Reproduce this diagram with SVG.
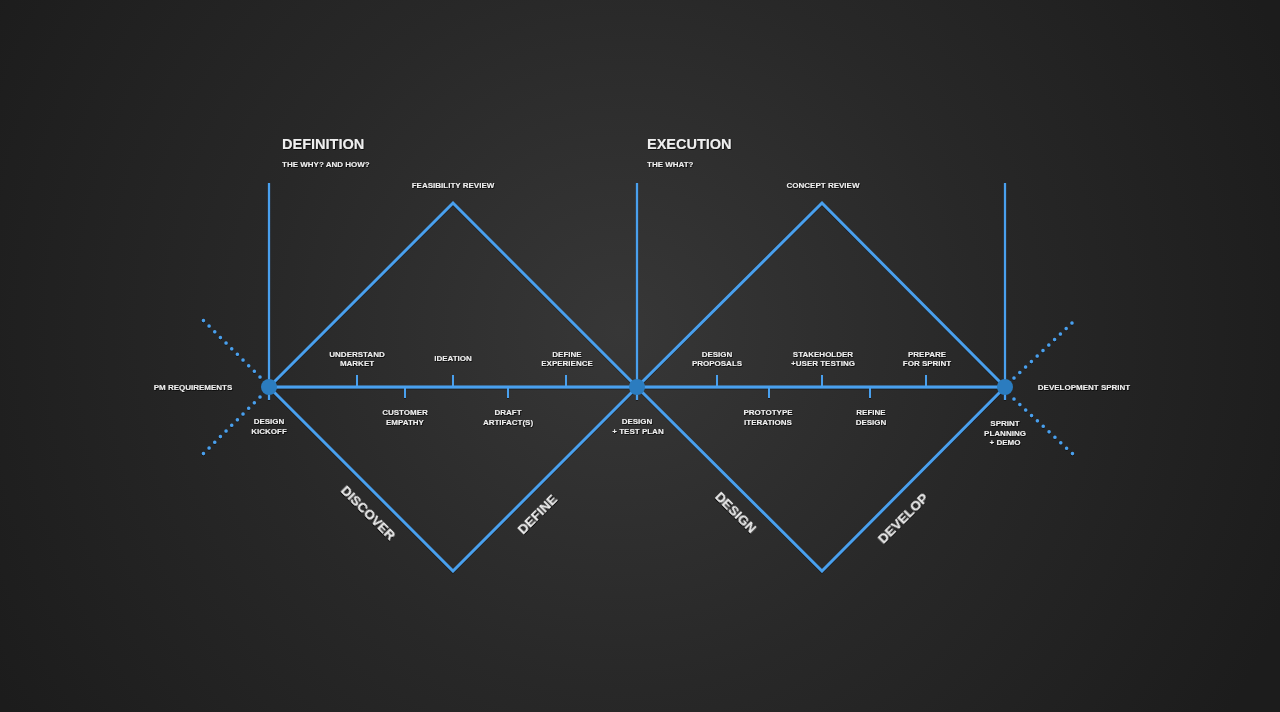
<svg xmlns="http://www.w3.org/2000/svg" width="1280" height="712" viewBox="0 0 1280 712">
<defs>
<radialGradient id="bg" cx="620" cy="330" r="720" gradientUnits="userSpaceOnUse">
<stop offset="0" stop-color="#373737"/>
<stop offset="0.5" stop-color="#282828"/>
<stop offset="1" stop-color="#1c1c1c"/>
</radialGradient>
<filter id="sh" x="-20%" y="-50%" width="140%" height="200%">
<feDropShadow dx="0.6" dy="0.8" stdDeviation="0.6" flood-color="#000" flood-opacity="0.9"/>
</filter>
<filter id="lsh" x="-5%" y="-5%" width="110%" height="110%">
<feDropShadow dx="0" dy="0.6" stdDeviation="0.5" flood-color="#000" flood-opacity="0.7"/>
</filter>
</defs>
<style>
.ln{stroke:#4aa0ee;stroke-width:2.8;fill:none}
.vl{stroke:#4aa0ee;stroke-width:2.2;fill:none}
.tk{stroke:#4aa0ee;stroke-width:2;fill:none}
.dot{stroke:#4aa0ee;stroke-width:3.5;stroke-linecap:round;stroke-dasharray:0 8;fill:none}
.nd{fill:#2b7cbf}
text{font-family:"Liberation Sans",Arial,sans-serif;font-weight:bold;fill:#eeeeee;filter:url(#sh)}
.s{font-size:8px;text-anchor:middle}
.sl{font-size:8px}
.h{font-size:14.5px}
.ph{font-size:13.5px;text-anchor:middle}
</style>
<rect width="1280" height="712" fill="url(#bg)"/>
<g id="connectors" filter="url(#lsh)">
<line class="vl" x1="269" y1="183" x2="269" y2="400"/>
<line class="vl" x1="637" y1="183" x2="637" y2="400"/>
<line class="vl" x1="1005" y1="183" x2="1005" y2="400"/>
<line class="ln" x1="269" y1="387" x2="1005" y2="387"/>
<polygon class="ln" points="269,387 453,203 637,387 453,571"/>
<polygon class="ln" points="637,387 822,203 1005,387 822,571"/>
<g id="ticks">
<line class="tk" x1="357" y1="375" x2="357" y2="387"/>
<line class="tk" x1="405" y1="387" x2="405" y2="398"/>
<line class="tk" x1="453" y1="375" x2="453" y2="387"/>
<line class="tk" x1="508" y1="387" x2="508" y2="398"/>
<line class="tk" x1="566" y1="375" x2="566" y2="387"/>
<line class="tk" x1="717" y1="375" x2="717" y2="387"/>
<line class="tk" x1="769" y1="387" x2="769" y2="398"/>
<line class="tk" x1="822" y1="375" x2="822" y2="387"/>
<line class="tk" x1="870" y1="387" x2="870" y2="398"/>
<line class="tk" x1="926" y1="375" x2="926" y2="387"/>
</g>
<g id="dotted">
<line class="dot" x1="260" y1="377" x2="203" y2="320"/>
<line class="dot" x1="260" y1="397" x2="203" y2="454"/>
<line class="dot" x1="1014" y1="378" x2="1075" y2="320"/>
<line class="dot" x1="1014" y1="399" x2="1075" y2="456"/>
</g>
</g>
<g id="node-kickoff"><circle class="nd" cx="269" cy="387" r="8"/></g>
<g id="node-testplan"><circle class="nd" cx="637" cy="387" r="8"/></g>
<g id="node-sprint"><circle class="nd" cx="1005" cy="387" r="8"/></g>
<g id="headings">
<text class="h" x="282" y="149">DEFINITION</text>
<text class="sl" x="282" y="167">THE WHY? AND HOW?</text>
<text class="h" x="647" y="149">EXECUTION</text>
<text class="sl" x="647" y="167">THE WHAT?</text>
<text class="s" x="453" y="188">FEASIBILITY REVIEW</text>
<text class="s" x="823" y="188">CONCEPT REVIEW</text>
</g>
<g id="labels">
<text class="s" x="193" y="390">PM REQUIREMENTS</text>
<text class="s" x="1084" y="390">DEVELOPMENT SPRINT</text>
<text class="s" x="269" y="424">DESIGN</text>
<text class="s" x="269" y="434">KICKOFF</text>
<text class="s" x="357" y="357">UNDERSTAND</text>
<text class="s" x="357" y="366">MARKET</text>
<text class="s" x="453" y="361">IDEATION</text>
<text class="s" x="567" y="357">DEFINE</text>
<text class="s" x="567" y="366">EXPERIENCE</text>
<text class="s" x="405" y="415">CUSTOMER</text>
<text class="s" x="405" y="425">EMPATHY</text>
<text class="s" x="508" y="415">DRAFT</text>
<text class="s" x="508" y="425">ARTIFACT(S)</text>
<text class="s" x="637" y="424">DESIGN</text>
<text class="s" x="638" y="434">+ TEST PLAN</text>
<text class="s" x="717" y="357">DESIGN</text>
<text class="s" x="717" y="366">PROPOSALS</text>
<text class="s" x="823" y="357">STAKEHOLDER</text>
<text class="s" x="823" y="366">+USER TESTING</text>
<text class="s" x="927" y="357">PREPARE</text>
<text class="s" x="927" y="366">FOR SPRINT</text>
<text class="s" x="768" y="415">PROTOTYPE</text>
<text class="s" x="768" y="425">ITERATIONS</text>
<text class="s" x="871" y="415">REFINE</text>
<text class="s" x="871" y="425">DESIGN</text>
<text class="s" x="1005" y="426">SPRINT</text>
<text class="s" x="1005" y="436">PLANNING</text>
<text class="s" x="1005" y="445">+ DEMO</text>
</g>
<g id="phases">
<text class="ph" transform="translate(368.5,512.5) rotate(45)" y="5">DISCOVER</text>
<text class="ph" transform="translate(537,514) rotate(-45)" y="5">DEFINE</text>
<text class="ph" transform="translate(736,512) rotate(45)" y="5">DESIGN</text>
<text class="ph" transform="translate(902.5,518) rotate(-45)" y="5">DEVELOP</text>
</g>
</svg>
